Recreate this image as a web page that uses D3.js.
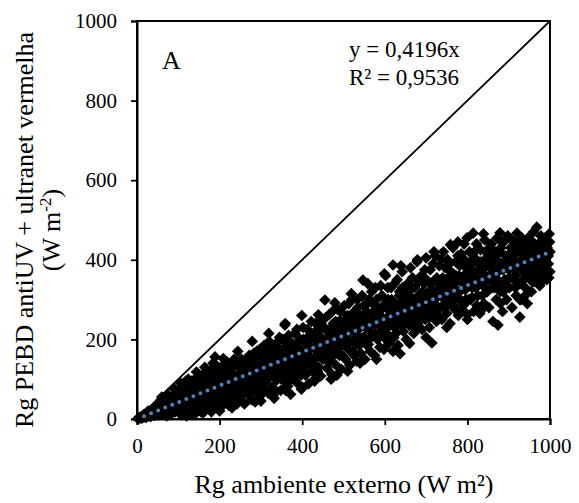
<!DOCTYPE html>
<html>
<head>
<meta charset="utf-8">
<script src="https://cdn.jsdelivr.net/npm/d3@7"></script>
<style>
  body { margin: 0; background: #fff; }
  text { font-family: "Liberation Serif", "Times New Roman", serif; fill: #000; }
</style>
</head>
<body>
<div id="grafico"></div>
<script>
// Rg ambiente externo (x) vs Rg PEBD antiUV + ultranet vermelha (y), W m-2
const medicoes = [
  [2,1],[5,2],[8,3],[10,5],[12,2],[15,8],[18,5],[20,10],[22,4],[25,12],[28,8],[30,15],[33,6],[35,18],[38,12],
  [40,22],[42,9],[45,28],[48,15],[50,34],[52,10],[55,40],[58,22],[60,55],[62,14],[65,30],[68,18],[70,42],[72,8],
  [75,35],[78,50],[80,25],[82,12],[85,45],[88,32],[90,60],[92,18],[95,40],[98,70],[100,28],[102,52],[105,12],
  [108,80],[110,38],[112,60],[115,22],[118,95],[120,45],[122,70],[125,30],[128,55],[130,85],[132,15],[135,62],
  [138,40],[140,100],[142,75],[145,25],[148,50],[150,88],[152,65],[155,18],[158,110],[160,42],[162,78],[165,55],
  [168,95],[170,30],[172,68],[175,120],[178,48],[180,85],[182,22],[185,62],[188,105],[190,40],[192,75],[195,132],
  [198,55],[200,90],[202,28],[205,68],[208,115],[210,45],[212,82],[215,140],[218,60],[220,100],[222,35],[225,75],
  [228,125],[230,52],[232,90],[235,150],[238,70],[240,108],[242,38],[245,85],[248,130],[250,58],[189,156],[218,143],
  [193,28],[252,98],[255,120],[258,42],[260,76],[262,145],[265,105],[268,62],[270,88],[272,160],[275,118],[278,48],
  [280,95],[282,135],[285,70],[286,43],[288,110],[290,170],[292,82],[295,128],[298,58],[300,100],[302,150],[305,75],
  [308,185],[310,115],[312,92],[315,140],[318,65],[320,195],[322,105],[325,160],[328,80],[330,125],[332,52],
  [335,175],[338,98],[340,145],[342,118],[345,205],[348,72],[350,135],[352,165],[355,95],[358,236],[360,112],
  [362,150],[365,82],[368,188],[370,128],[372,62],[375,170],[378,140],[380,105],[382,215],[385,158],[388,90],
  [390,180],[392,122],[395,200],[398,75],[400,145],[402,230],[405,168],[408,110],[410,190],[412,135],[415,88],
  [418,210],[420,155],[422,245],[425,120],[428,178],[430,100],[432,220],[435,160],[438,195],[440,130],[442,250],
  [445,108],[448,185],[450,150],[452,232],[455,299],[458,170],[460,128],[462,205],[465,262],[468,145],[470,192],
  [472,112],[475,240],[478,178],[480,215],[482,135],[484,110],[486,275],[488,200],[490,160],[492,248],[495,125],
  [498,188],[500,222],[502,285],[505,150],[508,205],[510,260],[512,175],[515,135],[518,232],[520,300],[522,195],
  [525,160],[528,250],[530,215],[532,145],[535,280],[538,185],[540,235],[542,165],[545,310],[547,349],[548,205],
  [550,260],[552,150],[555,228],[558,290],[560,188],[562,250],[565,170],[568,320],[570,215],[572,270],[575,160],
  [578,240],[580,300],[582,200],[585,265],[588,180],[590,335],[592,230],[595,282],[598,175],[600,250],[602,360],
  [605,215],[608,300],[610,190],[612,270],[615,330],[618,235],[620,387],[622,205],[625,290],[628,255],[630,350],
  [632,185],[635,310],[637,164],[638,240],[640,275],[642,370],[645,220],[648,300],[650,260],[652,200],[655,340],
  [658,280],[660,235],[662,380],[665,305],[668,255],[670,215],[672,330],[675,285],[678,395],[680,240],[682,310],
  [685,265],[688,360],[690,225],[692,295],[695,340],[698,250],[700,405],[702,280],[705,320],[708,230],[710,375],
  [712,300],[714,191],[715,260],[718,345],[720,290],[722,410],[725,245],[728,325],[730,280],[732,385],[735,310],
  [738,250],[740,355],[742,420],[745,290],[748,335],[750,265],[752,400],[755,310],[758,240],[760,370],[762,290],
  [765,430],[768,340],[770,275],[772,395],[775,320],[777,445],[778,260],[780,360],[782,300],[785,415],[788,345],
  [790,285],[792,440],[795,325],[798,380],[800,250],[802,355],[805,420],[808,300],[810,390],[812,330],[814,467],
  [815,270],[818,405],[820,350],[822,440],[825,310],[828,375],[830,265],[832,425],[835,340],[838,395],[840,290],
  [842,450],[845,360],[848,320],[850,410],[852,280],[855,380],[858,440],[860,330],[862,245],[865,400],[868,355],
  [870,300],[872,455],[874,236],[875,370],[878,420],[880,320],[882,390],[885,270],[888,445],[890,350],[892,410],
  [895,300],[898,460],[900,375],[902,330],[905,430],[908,280],[910,395],[912,350],[915,445],[918,310],[920,467],
  [922,385],[925,340],[927,256],[928,420],[930,300],[932,455],[935,370],[938,400],[940,330],[942,440],[945,290],
  [948,410],[950,360],[952,450],[955,320],[958,395],[960,470],[962,345],[965,420],[968,482],[970,380],[972,440],
  [975,335],[978,460],[980,400],[982,362],[984,430],[986,375],[988,455],[990,410],[992,350],[994,440],[996,390],
  [998,465],[1000,420],[1000,370],[999,445],[997,355]
];

const medicoesNucleo = [
  [103,40],[107,58],[111,30],[116,48],[121,62],[126,42],[131,70],[136,50],[141,35],[146,65],[151,78],[156,50],
  [161,88],[166,70],[171,52],[176,80],[181,98],[186,58],[191,88],[196,70],[201,110],[206,55],[211,95],[216,72],
  [221,118],[226,88],[231,65],[236,100],[241,82],[246,112],[251,85],[256,135],[261,100],[266,125],[271,78],
  [276,140],[281,110],[287,150],[291,100],[296,140],[301,120],[306,160],[311,95],[316,125],[321,150],[326,110],
  [331,165],[336,130],[341,100],[346,155],[351,115],[356,175],[361,140],[366,120],[371,160],[376,190],[381,135],
  [386,115],[391,160],[396,175],[401,120],[406,195],[411,160],[416,140],[421,180],[426,205],[431,150],[436,180],
  [441,210],[446,165],[451,195],[456,225],[461,180],[466,160],[471,215],[476,200],[481,245],[486,175],[491,210],
  [496,230],[501,190],[506,250],[511,215],[516,195],[521,240],[526,270],[531,190],[536,225],[541,260],[546,235],
  [551,205],[556,270],[561,230],[566,250],[571,290],[576,215],[581,255],[586,235],[591,275],[596,210],[601,290],
  [606,255],[611,235],[616,300],[621,265],[626,230],[631,280],[636,320],[641,250],[646,275],[651,300],[656,245],
  [661,290],[666,330],[671,270],[676,250],[681,300],[686,280],[691,320],[696,260],[701,350],[706,290],[711,270],
  [716,320],[721,300],[726,355],[731,275],[736,330],[741,305],[746,380],[751,330],[756,350],[761,300],[766,365],
  [771,340],[776,305],[781,385],[786,325],[791,360],[796,300],[801,375],[806,345],[811,305],[816,370],[821,330],
  [826,390],[831,350],[836,310],[841,380],[846,420],[851,350],[856,395],[861,365],[866,330],[871,400],[876,345],
  [881,430],[886,375],[891,330],[896,400],[901,355],[906,410],[911,375],[916,330],[921,420],[926,380],[931,400],
  [936,350],[941,420],[946,385],[951,400],[956,430],[961,380],[966,400],[971,360],[976,415],[981,385],[986,420],
  [991,385],[996,410]
];

const medicoesExtra = [
  [6,4],[13,6],[17,12],[24,16],[27,20],[32,10],[37,24],[43,18],[47,30],[53,26],[57,35],[63,38],[67,45],[71,28],
  [76,20],[79,40],[84,55],[87,22],[93,50],[96,35],[99,60],[104,70],[109,45],[113,75],[117,35],[123,85],[127,20],
  [133,95],[137,78],[143,60],[147,105],[153,40],[157,90],[163,115],[167,35],[173,100],[177,60],[183,125],[187,85],
  [194,110],[197,45],[203,130],[207,85],[213,50],[217,120],[223,95],[227,140],[233,110],[237,50],[243,135],[247,95],
  [253,150],[257,70],[263,125],[267,90],[273,145],[277,110],[283,165],[289,85],[293,150],[297,175],[303,90],
  [307,135],[313,170],[317,110],[323,185],[327,140],[333,70],[337,190],[343,130],[347,175],[353,200],[357,130],
  [363,185],[367,210],[373,100],[377,150],[383,185],[387,225],[393,140],[397,110],[403,200],[407,140],[413,225],
  [417,175],[423,205],[427,135],[433,240],[437,120],[443,200],[447,230],[453,175],[457,255],[463,145],[467,225],
  [473,270],[477,160],[483,230],[487,195],[493,270],[497,160],[503,240],[507,180],[513,290],[517,255],[523,170],
  [527,220],[533,300],[537,250],[543,200],[549,285],[553,240],[557,185],[563,300],[567,205],[573,245],[577,330],
  [583,280],[587,215],[593,310],[597,250],[603,200],[607,330],[613,245],[617,280],[623,340],[627,215],[633,260],
  [637,290],[643,330],[647,240],[653,320],[657,270],[663,250],[667,355],[673,300],[677,225],[683,345],[687,300],
  [693,265],[697,375],[703,310],[707,255],[713,340],[717,390],[723,285],[727,260],[733,340],[737,400],[743,330],
  [747,280],[753,355],[757,390],[763,320],[767,285],[773,360],[777,410],[783,350],[787,275],[793,400],[797,340],
  [803,300],[807,395],[813,360],[817,420],[823,285],[827,350],[833,395],[837,365],[843,330],[847,400],[853,430],
  [857,350],[863,385],[867,420],[873,340],[877,390],[883,445],[887,320],[893,385],[897,350],[903,415],[907,450],
  [913,400],[917,360],[923,440],[927,300],[933,390],[937,430],[943,360],[947,455],[953,380],[957,345],[963,440],
  [967,370],[973,400],[977,440],[983,410],[987,395],[993,430],[997,420]
];

const medicoesBordas = [
  [58,48],[74,62],[91,75],[106,90],[124,100],[144,118],[164,130],[184,140],[209,152],[244,170],[279,195],
  [319,215],[359,240],[399,260],[439,262],[479,292],[519,315],[559,340],[599,365],[639,385],[679,400],[719,420],
  [759,438],[799,455],[839,465],[879,468],[120,8],[140,12],[160,15],[180,18],[200,20],[230,28],[260,38],[300,45],
  [330,60],[360,72],[400,80],[430,95],[470,100],[510,120],[540,140],[580,150],[620,170],[660,190],[700,205],
  [750,230],[800,262],[840,280],[880,290],[940,310],[980,345]
];

const ticksX = [0, 200, 400, 600, 800, 1000];
const ticksY = [0, 200, 400, 600, 800, 1000];
const inclinacao = 0.4196;
const equacao = ["y = 0,4196x", "R² = 0,9536"];

const width = 579, height = 503;
const margin = {left: 137, right: 29, top: 21, bottom: 84};

const svg = d3.select("#grafico").append("svg")
    .attr("width", width)
    .attr("height", height);

const x = d3.scaleLinear().domain([0, 1000]).range([margin.left, width - margin.right]);
const y = d3.scaleLinear().domain([0, 1000]).range([height - margin.bottom, margin.top]);

// linha 1:1
svg.append("line")
    .attr("x1", x(0)).attr("y1", y(0))
    .attr("x2", x(1000)).attr("y2", y(1000))
    .attr("stroke", "#000")
    .attr("stroke-width", 1.8);

// pontos (losangos)
const losango = d3.symbol().type(d3.symbolSquare).size(68);
svg.append("g")
  .selectAll("path")
  .data(medicoes.concat(medicoesNucleo, medicoesExtra, medicoesBordas))
  .enter().append("path")
    .attr("d", losango)
    .attr("transform", d => `translate(${x(d[0])},${y(d[1])}) rotate(45)`)
    .attr("fill", "#000");

// linha de tendência pontilhada
svg.append("line")
    .attr("x1", x(0)).attr("y1", y(0))
    .attr("x2", x(1000)).attr("y2", y(1000 * inclinacao))
    .attr("stroke", "#4f81bd")
    .attr("stroke-width", 4)
    .attr("stroke-linecap", "round")
    .attr("stroke-dasharray", "0 7.6");

// moldura
svg.append("rect")
    .attr("x", x(0)).attr("y", y(1000))
    .attr("width", x(1000) - x(0))
    .attr("height", y(0) - y(1000))
    .attr("fill", "none")
    .attr("stroke", "#000")
    .attr("stroke-width", 2);

const eixoX = svg.append("g")
    .attr("transform", `translate(0,${y(0)})`)
    .call(d3.axisBottom(x).tickValues(ticksX).tickFormat(d3.format("d")).tickSize(6).tickPadding(13));
const eixoY = svg.append("g")
    .attr("transform", `translate(${x(0)},0)`)
    .call(d3.axisLeft(y).tickValues(ticksY).tickFormat(d3.format("d")).tickSize(6).tickPadding(14));

[eixoX, eixoY].forEach(g => {
  g.attr("font-family", null).attr("font-size", null);
  g.select(".domain").attr("stroke-width", 2);
  g.selectAll(".tick line").attr("stroke-width", 1.8);
  g.selectAll(".tick text").style("font-size", "21px");
});

svg.append("text")
    .attr("x", 162).attr("y", 69)
    .style("font-size", "26px")
    .text("A");

svg.selectAll(".eq")
  .data(equacao)
  .enter().append("text")
    .attr("class", "eq")
    .attr("x", 349)
    .attr("y", (d, i) => 57 + i * 28)
    .style("font-size", "23px")
    .text(d => d);

svg.append("text")
    .attr("x", 344).attr("y", 493)
    .attr("text-anchor", "middle")
    .style("font-size", "26px")
    .text("Rg ambiente externo (W m²)");

const tituloY = svg.append("text")
    .attr("transform", "translate(33,230) rotate(-90)")
    .attr("text-anchor", "middle")
    .style("font-size", "26px");
tituloY.append("tspan").attr("x", 0).attr("y", 0).text("Rg PEBD antiUV + ultranet vermelha");
const linha2 = tituloY.append("tspan").attr("x", 0).attr("y", 27);
linha2.append("tspan").text("(W m");
linha2.append("tspan").attr("dy", -9).style("font-size", "17px").text("-2");
linha2.append("tspan").attr("dy", 9).text(")");
</script>
</body>
</html>
